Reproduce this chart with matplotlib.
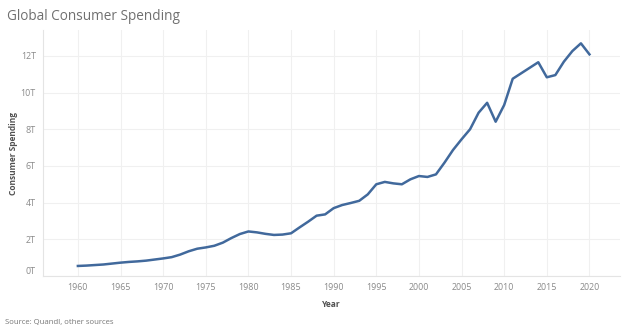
import matplotlib
matplotlib.use("Agg")
import matplotlib.pyplot as plt

# Global consumer spending, trillions of US dollars
years = list(range(1960, 2021))
spending = [
    0.55, 0.57, 0.60, 0.63, 0.68, 0.73, 0.77, 0.80, 0.84, 0.90,
    0.96, 1.03, 1.17, 1.35, 1.49, 1.56, 1.65, 1.82, 2.07, 2.29,
    2.43, 2.38, 2.30, 2.24, 2.26, 2.33, 2.65, 2.96, 3.29, 3.36,
    3.70, 3.87, 3.98, 4.10, 4.45, 5.00, 5.13, 5.05, 5.00, 5.27,
    5.45, 5.40, 5.54, 6.18, 6.87, 7.45, 8.00, 8.90, 9.44, 8.41,
    9.32, 10.75, 11.05, 11.35, 11.65, 10.83, 10.95, 11.68, 12.26, 12.68,
    12.08,
]
x_ticks = list(range(1960, 2021, 5))
y_ticks = [0, 2, 4, 6, 8, 10, 12]
y_tick_labels = [f"{v}T" for v in y_ticks]

plt.rcParams["font.family"] = ["Open Sans", "DejaVu Sans"]

fig = plt.figure(figsize=(6.22, 3.31), dpi=100)
ax = fig.add_axes([0.069, 0.166, 0.928, 0.743])

ax.plot(years, spending, color="#41699c", linewidth=1.8, solid_joinstyle="round")

ax.set_xlim(1955.9, 2023.6)
ax.set_ylim(0, 13.4)
ax.set_xticks(x_ticks)
ax.set_yticks(y_ticks)
ax.set_yticklabels(y_tick_labels)

ax.grid(True, color="#f0f0f0", linewidth=0.8)
ax.set_axisbelow(True)
for side in ("top", "right"):
    ax.spines[side].set_visible(False)
for side in ("left", "bottom"):
    ax.spines[side].set_color("#e4e4e4")
    ax.spines[side].set_linewidth(0.8)

ax.tick_params(axis="both", length=0, labelsize=6.4, labelcolor="#8a8a8a", pad=5)
# keep the bottom y label inside the plot area
for lbl in ax.get_yticklabels():
    if lbl.get_text() == "0T":
        lbl.set_verticalalignment("bottom")

ax.set_xlabel("Year", fontsize=6, color="#505050", fontweight="bold", labelpad=6)
ax.set_ylabel("Consumer Spending", fontsize=6, color="#505050", fontweight="bold", labelpad=2)

fig.text(0.012, 0.950, "Global Consumer Spending", fontsize=9.8, color="#707070",
         ha="left", va="center")
fig.text(0.008, 0.025, "Source: Quandl, other sources", fontsize=5.6, color="#777777",
         ha="left", va="center")

fig.savefig("out.png", dpi=100)
